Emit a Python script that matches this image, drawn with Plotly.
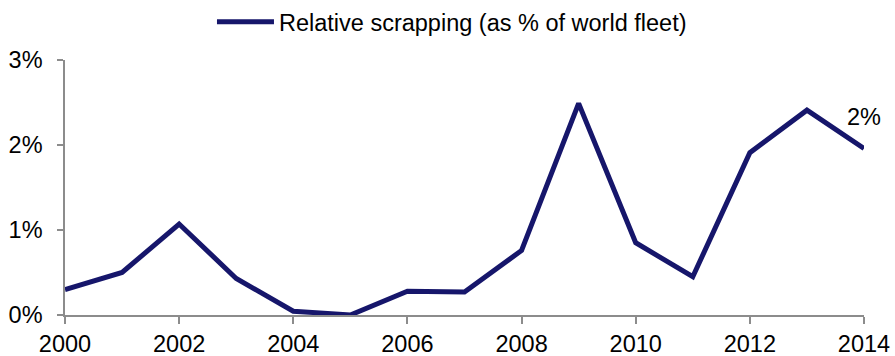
import plotly.graph_objects as go

years = list(range(2000, 2015))
scrapping_pct = [0.30, 0.50, 1.07, 0.43, 0.045, 0.0, 0.28, 0.27, 0.76, 2.49, 0.85, 0.45, 1.91, 2.41, 1.96]
series_name = "Relative scrapping (as % of world fleet)"
y_ticks = [0, 1, 2, 3]
y_tick_labels = ["0%", "1%", "2%", "3%"]
x_ticks = [2000, 2002, 2004, 2006, 2008, 2010, 2012, 2014]

line_color = "#16166b"
axis_color = "#8c8c8c"
font_family = "Liberation Sans, Arial, sans-serif"
fs = 23.5

fig = go.Figure()
fig.add_trace(go.Scatter(
    x=years, y=scrapping_pct, mode="lines", name=series_name,
    line=dict(color=line_color, width=5), showlegend=True,
))

fig.add_annotation(
    x=years[-1], y=scrapping_pct[-1], text=f"{round(scrapping_pct[-1])}%",
    showarrow=False, yshift=31, xshift=0,
    font=dict(family=font_family, size=fs, color="black"),
)

fig.update_layout(
    width=895, height=356,
    margin=dict(l=65, r=31, t=60, b=41.3),
    paper_bgcolor="white", plot_bgcolor="white",
    font=dict(family=font_family, size=fs, color="black"),
    showlegend=True,
    legend=dict(orientation="h", x=0.505, xanchor="center", xref="container",
                y=1.0, yanchor="top", yref="container",
                font=dict(size=fs), itemwidth=57,
                bgcolor="rgba(0,0,0,0)"),
    xaxis=dict(range=[2000, 2014], tickvals=x_ticks, showgrid=False, zeroline=False,
               showline=True, linecolor=axis_color, linewidth=1.5,
               ticks="outside", ticklen=7, tickcolor=axis_color, tickwidth=1.5,
               tickfont=dict(size=fs), automargin=False, ticklabelstandoff=0),
    yaxis=dict(range=[0, 3], tickvals=y_ticks, ticktext=y_tick_labels, showgrid=False,
               zeroline=False, showline=True, linecolor=axis_color, linewidth=1.5,
               ticks="outside", ticklen=6, tickcolor=axis_color, tickwidth=1.5,
               tickfont=dict(size=fs), automargin=False, ticklabelstandoff=10),
)

fig.write_html("out.html")
